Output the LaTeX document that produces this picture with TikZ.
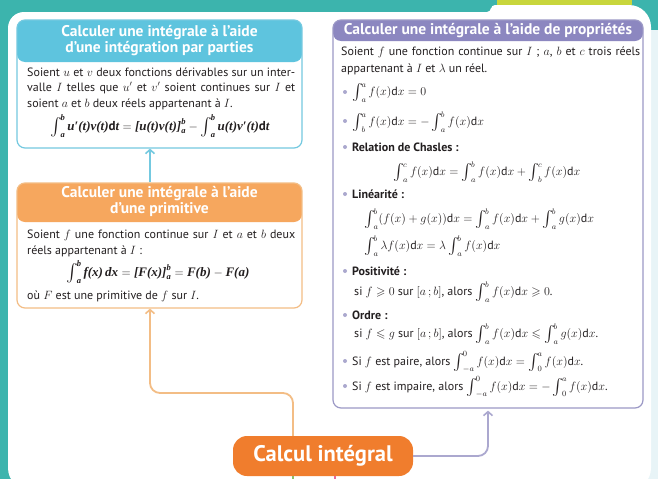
\documentclass[tikz,border=0pt]{standalone}
\usepackage{amsmath,amssymb,graphicx}
\usepackage{fontspec}
\setmainfont{PT Sans}
\newfontfamily\tms{Liberation Serif}
\usetikzlibrary{arrows.meta}
\definecolor{tealc}{HTML}{3CB4AD}
\definecolor{ygreen}{HTML}{C8D63C}
\definecolor{strip}{HTML}{E8F4F7}
\definecolor{blueh}{HTML}{5EC4DE}
\definecolor{blueb}{HTML}{74C9E0}
\definecolor{orangeh}{HTML}{F6A75E}
\definecolor{orangeb}{HTML}{F3BD85}
\definecolor{purpleh}{HTML}{8C87C0}
\definecolor{purpleb}{HTML}{9C99C6}
\definecolor{calcc}{HTML}{F07D2D}
\definecolor{textc}{HTML}{231F20}
\definecolor{bulletc}{HTML}{ABA8CE}
\definecolor{stubg}{HTML}{8CC06A}
\definecolor{stubp}{HTML}{E86A9A}
\newcommand{\bi}[1]{\hbox{\tms\bfseries\itshape #1}}
\newcommand{\bl}[1]{\hbox{\tms\bfseries\itshape\fontsize{8.5}{9}\selectfont #1}}
\newcommand{\bd}{\hbox{\bfseries d}}
\newcommand{\Int}{\mathop{\vcenter{\hbox{\scalebox{1.35}{$\int$}\kern-1.5pt}}}\nolimits}
\newcommand{\jl}[2]{\makebox[#1][s]{#2}}
\begin{document}
\begin{tikzpicture}[x=1pt,y=-1pt,
  box/.style={rectangle, rounded corners=8pt, line width=1.2pt, fill=white, inner sep=0pt},
  hdr/.style={align=center, text=white, font=\fontsize{15.5}{16}\selectfont\bfseries, inner sep=0pt},
  txt/.style={anchor=west, inner sep=0pt, text=textc, font=\fontsize{12}{14}\selectfont},
  frm/.style={inner sep=0pt, text=textc, font=\fontsize{12}{14}\selectfont},
  bfrm/.style={inner sep=0pt, text=textc, font=\fontsize{13}{15}\selectfont},
  bul/.style={circle, fill=bulletc, inner sep=0pt, minimum size=4pt},
  arr/.style={line width=1.8pt, rounded corners=10pt, -{Straight Barb[length=4pt,width=9pt,line width=1.6pt]}}
]
\useasboundingbox (0,0) rectangle (658,479);
% background
\fill[tealc] (0,0) rectangle (658,479);
\fill[strip] (645,30) rectangle (658,479);
\fill[white] (8,490) [rounded corners=16pt] -- (8,12) -- (486,12) [rounded corners=4pt] -- (491,12) -- (491,5) [rounded corners=22pt] -- (651,5) -- (651,490) -- cycle;
\fill[ygreen] (497,0) rectangle (632,5);

% integration par parties
\node[box, draw=blueb, minimum width=285pt, minimum height=128pt,
  path picture={\fill[blueh] (path picture bounding box.north west) rectangle ([yshift=-42pt]path picture bounding box.north east);}]
  (ipp) at (159.5,84) {};
\node[hdr] (ipph) at (159.5,40.5) {Calculer une intégrale à l’aide\\d’une intégration par parties};
\node[txt] (ipp1) at (27,72) {\jl{268pt}{Soient $u$ et $v$ deux fonctions dérivables sur un inter-}};
\node[txt] (ipp2) at (27,88) {\jl{268pt}{valle $I$ telles que $u^{\prime}$ et $v^{\prime}$ soient continues sur $I$ et}};
\node[txt] (ipp3) at (27,104) {soient $a$ et $b$ deux réels appartenant à $I$.};
\node[bfrm] (ippf) at (160,126) {$\Int_{\bl{a}}^{\bl{b}}\bi{u′(t)v(t)}\bd\bi{t}=\bi{[u(t)v(t)]}_{\bl{a}}^{\bl{b}}-\Int_{\bl{a}}^{\bl{b}}\bi{u(t)v′(t)}\bd\bi{t}$};

% primitive
\node[box, draw=orangeb, minimum width=285pt, minimum height=125pt,
  path picture={\fill[orangeh] (path picture bounding box.north west) rectangle ([yshift=-39pt]path picture bounding box.north east);}]
  (prim) at (159.5,245.5) {};
\node[hdr] (primh) at (159.5,201) {Calculer une intégrale à l’aide\\d’une primitive};
\node[txt] (prim1) at (27,235) {\jl{268pt}{Soient $f$ une fonction continue sur $I$ et $a$ et $b$ deux}};
\node[txt] (prim2) at (27,251) {réels appartenant à $I$ :};
\node[bfrm] (primf) at (158,272) {$\Int_{\bl{a}}^{\bl{b}}\bi{f(x)\,dx}=\bi{[F(x)]}_{\bl{a}}^{\bl{b}}=\bi{F(b)}-\bi{F(a)}$};
\node[txt] (prim3) at (27,296) {où $F$ est une primitive de $f$ sur $I$.};

% proprietes
\node[box, draw=purpleb, minimum width=310pt, minimum height=388pt,
  path picture={\fill[purpleh] (path picture bounding box.north west) rectangle ([yshift=-21pt]path picture bounding box.north east);}]
  (prop) at (488,214) {};
\node[hdr] (proph) at (488,30.5) {Calculer une intégrale à l’aide de propriétés};
\node[txt] (p1) at (341,52) {\jl{299pt}{Soient $f$ une fonction continue sur $I$ ; $a$, $b$ et $c$ trois réels}};
\node[txt] (p2) at (341,69) {appartenant à $I$ et $\lambda$ un réel.};
\node[bul] (b1) at (345,92) {};
\node[txt] (p3) at (352,93) {$\Int_a^a f(x)\mathrm{d}x=0$};
\node[bul] (b2) at (345,121) {};
\node[txt] (p4) at (352,122) {$\Int_b^a f(x)\mathrm{d}x=-\Int_a^b f(x)\mathrm{d}x$};
\node[bul] (b3) at (345,147) {};
\node[txt] (p5) at (352,147) {\bfseries Relation de Chasles :};
\node[frm] (p6) at (487,172) {$\Int_a^c f(x)\mathrm{d}x=\Int_a^b f(x)\mathrm{d}x+\Int_b^c f(x)\mathrm{d}x$};
\node[bul] (b4) at (345,194) {};
\node[txt] (p7) at (352,194) {\bfseries Linéarité :};
\node[txt] (p8) at (364,219) {$\Int_a^b (f(x)+g(x))\mathrm{d}x=\Int_a^b f(x)\mathrm{d}x+\Int_a^b g(x)\mathrm{d}x$};
\node[txt] (p9) at (364,246) {$\Int_a^b \lambda f(x)\mathrm{d}x=\lambda\Int_a^b f(x)\mathrm{d}x$};
\node[bul] (b5) at (345,271) {};
\node[txt] (p10) at (352,271) {\bfseries Positivité :};
\node[txt] (p11) at (354,292) {si $f\geqslant 0$ sur $[a\,;b]$, alors $\Int_a^b f(x)\mathrm{d}x\geqslant 0$.};
\node[bul] (b6) at (345,315) {};
\node[txt] (p12) at (352,315) {\bfseries Ordre :};
\node[txt] (p13) at (354,334) {si $f\leqslant g$ sur $[a\,;b]$, alors $\Int_a^b f(x)\mathrm{d}x\leqslant\Int_a^b g(x)\mathrm{d}x$.};
\node[bul] (b7) at (345,361) {};
\node[txt] (p14) at (352,362) {Si $f$ est paire, alors $\Int_{-a}^0 f(x)\mathrm{d}x=\Int_0^a f(x)\mathrm{d}x$.};
\node[bul] (b8) at (345,386) {};
\node[txt] (p15) at (352,387) {Si $f$ est impaire, alors $\Int_{-a}^0 f(x)\mathrm{d}x=-\Int_0^a f(x)\mathrm{d}x$.};

% central node
\node[rectangle, rounded corners=14pt, fill=calcc, minimum width=180pt, minimum height=40pt, text=white, font=\fontsize{22.5}{24}\selectfont\bfseries] (calc) at (323,456) {Calcul intégral};

% connectors
\coordinate (bk) at (150,0);
\coordinate (ok) at (150,393);
\coordinate (pk) at (488,0);
\coordinate (sg) at (293,479);
\coordinate (sp) at (335,479);
\draw[arr, draw=blueb] (prim.north -| bk) -- (ipp.south -| bk);
\draw[arr, draw=orangeb] ([xshift=-30pt]calc.north) |- (ok) -- (prim.south -| ok);
\draw[arr, draw=purpleb!85, shorten >=2pt] (calc.east) -| (prop.south -| pk);
\draw[line width=1.5pt, stubg] (calc.south -| sg) -- (sg);
\draw[line width=1.5pt, stubp] (calc.south -| sp) -- (sp);
\end{tikzpicture}
\end{document}
